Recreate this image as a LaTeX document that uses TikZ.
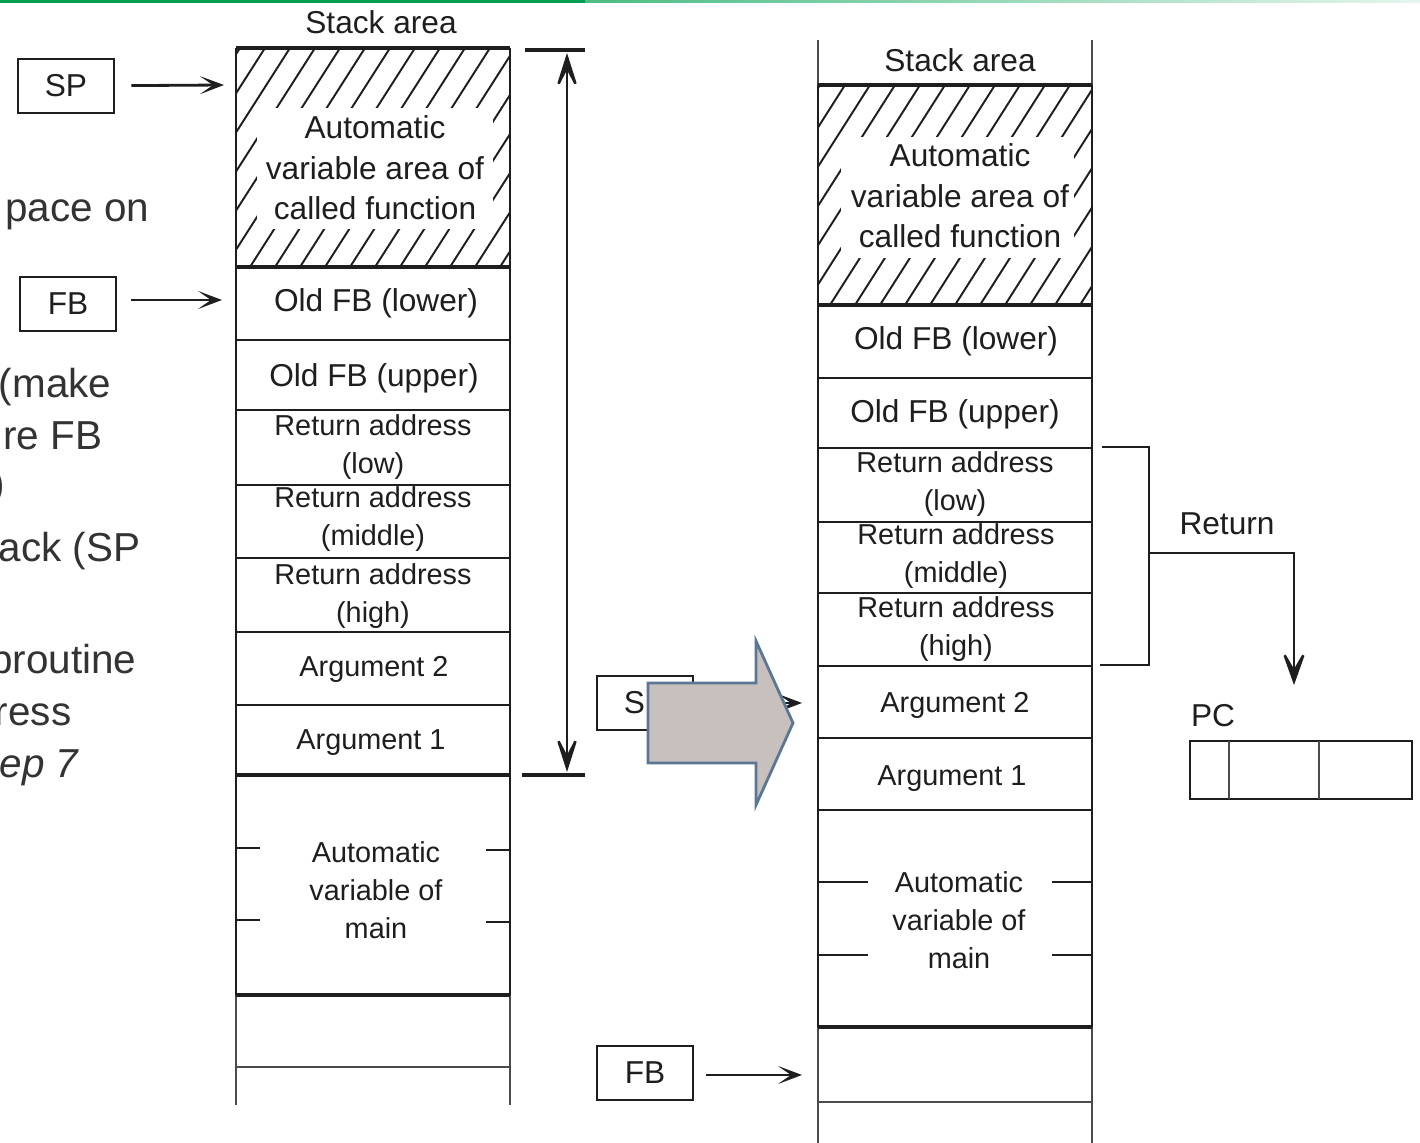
\documentclass[tikz,border=0pt]{standalone}
\usepackage{fontspec}
\setmainfont{Liberation Sans}
\usetikzlibrary{arrows.meta}
\definecolor{ink}{RGB}{30,30,30}
\definecolor{slidegray}{RGB}{51,51,51}
\definecolor{barG}{RGB}{0,160,80}
\definecolor{arrowfill}{RGB}{200,192,188}
\definecolor{arrowline}{RGB}{90,120,150}
\begin{document}
\begin{tikzpicture}[x=0.01cm,y=-0.01cm,
  cell/.style={font=\fontsize{9}{11}\selectfont,text=ink,align=center,inner sep=0pt},
  cellsm/.style={font=\fontsize{8.2}{10.8}\selectfont,text=ink,align=center,inner sep=0pt},
  slide/.style={font=\fontsize{11.5}{14}\selectfont,text=slidegray,anchor=base east,inner sep=0pt},
  reg/.style={draw=ink,line width=0.7pt,minimum width=0.96cm,minimum height=0.54cm,inner sep=0pt,font=\fontsize{9}{10}\selectfont,text=ink},
  rule/.style={draw=ink,line width=0.75pt},
  heavy/.style={draw=ink,line width=1.1pt},
  faint/.style={draw=ink!80,line width=0.4pt},
  hatch/.style={draw=ink,line width=0.55pt},
  ptr/.style={draw=ink,line width=0.8pt,-{Stealth[length=2.4mm,width=1.8mm,inset=1.3mm]}},
  span/.style={draw=ink,line width=0.7pt,{Stealth[length=4.4mm,width=2.8mm,inset=2.7mm]}-{Stealth[length=4.4mm,width=2.8mm,inset=2.7mm]}},
  bigtip/.style={draw=ink,line width=0.7pt,-{Stealth[length=4.2mm,width=3mm,inset=2.6mm]}},
]
\useasboundingbox (0,0) rectangle (1420,1143);
\fill[white] (0,0) rectangle (1420,1143);

% top bar
\fill[barG] (0,0) rectangle (585,3.5);
\shade[left color=barG!70, right color=barG!10] (585,0) rectangle (1420,2.5);

% slide text (cut off at left)
\node[slide] (s1) at (150,222) {pace on};
\node[slide] (s2) at (112,398) {(make};
\node[slide] (s3) at (103,450) {re FB};
\node[slide] (s4) at (6,498) {)};
\node[slide] (s5) at (141,562) {ack (SP};
\node[slide] (s6) at (137,674) {proutine};
\node[slide] (s7) at (72,726) {ress};
\node[slide,font=\fontsize{11.5}{14}\selectfont\itshape] (s8) at (79,778) {ep 7};

% ================= LEFT STACK =================
\node[cell] (lsa) at (381,22) {Stack area};
\begin{scope}
  \clip (236,48) rectangle (510,267);
  \foreach \i in {0,...,18} \draw[hatch] (100+\i*25,267) -- ++(140,-219);
\end{scope}
\fill[white] (257,108) rectangle (493,229);
\node[cell,font=\fontsize{9}{11.5}\selectfont] (lauto) at (375,168) {Automatic\\variable area of\\called function};
\node[cell] (lofl) at (376,303) {Old FB (lower)};
\node[cell] (lofu) at (374,378) {Old FB (upper)};
\node[cellsm] (lral) at (373,447) {Return address\\(low)};
\node[cellsm] (lram) at (373,519) {Return address\\(middle)};
\node[cellsm] (lrah) at (373,596) {Return address\\(high)};
\node[cellsm] (larg2) at (374,669) {Argument 2};
\node[cellsm] (larg1) at (371,743) {Argument 1};
\node[cellsm] (lmain) at (376,890) {Automatic\\variable of\\main};

\draw[rule] (236,48) -- (236,995);
\draw[rule] (510,48) -- (510,995);
\draw[faint] (236,995) -- (236,1105);
\draw[faint] (510,995) -- (510,1105);
\draw[heavy] (236,48) -- (510,48);
\draw[heavy] (236,267) -- (510,267);
\foreach \yy in {340,410,485,558,632,705} \draw[rule] (236,\yy) -- (510,\yy);
\draw[heavy] (236,775) -- (510,775);
\draw[heavy] (236,995) -- (510,995);
\draw[faint] (236,1067) -- (510,1067);
\draw[rule] (236,848) -- (260,848);
\draw[rule] (236,920) -- (260,920);
\draw[rule] (486,850) -- (510,850);
\draw[rule] (486,922) -- (510,922);

% span arrow
\draw[heavy] (525,50) -- (585,50);
\draw[heavy] (522,775) -- (585,775);
\coordinate (spt) at (567,53);
\coordinate (spb) at (567,772);
\draw[span] (spt) -- (spb);

% SP, FB pointers (left)
\node[reg] (sp1) at (66,86) {SP};
\node[reg] (fb1) at (68,304) {FB};
\coordinate (tsp1) at (224,85);
\coordinate (tfb1) at (222,300);
\draw[ptr,shorten <=0.16cm] (sp1) -- (tsp1);
\draw[ptr,shorten <=0.14cm] (fb1.east |- tfb1) -- (tfb1);

% ================= RIGHT STACK =================
\node[cell] (rsa) at (960,60) {Stack area};
\begin{scope}
  \clip (818,85) rectangle (1092,305);
  \foreach \i in {0,...,18} \draw[hatch] (680+\i*25,305) -- ++(140,-220);
\end{scope}
\fill[white] (841,137) rectangle (1074,258);
\node[cell,font=\fontsize{9}{11.5}\selectfont] (rauto) at (960,196) {Automatic\\variable area of\\called function};
\node[cell] (rofl) at (956,341) {Old FB (lower)};
\node[cell] (rofu) at (955,414) {Old FB (upper)};
\node[cellsm] (rral) at (955,484) {Return address\\(low)};
\node[cellsm] (rram) at (956,556) {Return address\\(middle)};
\node[cellsm] (rrah) at (956,629) {Return address\\(high)};
\node[cellsm] (rarg2) at (955,705) {Argument 2};
\node[cellsm] (rarg1) at (952,779) {Argument 1};
\node[cellsm] (rmain) at (959,920) {Automatic\\variable of\\main};

\draw[faint] (818,40) -- (818,85);
\draw[faint] (1092,40) -- (1092,85);
\draw[rule] (818,85) -- (818,1027);
\draw[rule] (1092,85) -- (1092,1027);
\draw[faint] (818,1027) -- (818,1143);
\draw[faint] (1092,1027) -- (1092,1143);
\draw[heavy] (818,85) -- (1092,85);
\draw[heavy] (818,305) -- (1092,305);
\foreach \yy in {378,448,522,593,666,738,810} \draw[rule] (818,\yy) -- (1092,\yy);
\draw[heavy] (818,1027) -- (1092,1027);
\draw[faint] (818,1102) -- (1092,1102);
\draw[rule] (818,882) -- (868,882);
\draw[rule] (818,955) -- (868,955);
\draw[rule] (1052,882) -- (1092,882);
\draw[rule] (1052,955) -- (1092,955);

% bracket and return arrow
\draw[rule] (1102,447) -- (1149,447) -- (1149,665) -- (1100,665);
\coordinate (br) at (1149,553);
\coordinate (pcin) at (1294,685);
\draw[bigtip] (br) -| (pcin);
\node[cell] (ret) at (1227,524) {Return};
\node[cell] (pcl) at (1213,716) {PC};
\node[draw=ink,line width=0.75pt,minimum width=2.22cm,minimum height=0.58cm,inner sep=0pt] (pc) at (1301,770) {};
\draw[faint,line width=0.5pt] (1229,741) -- (1229,799);
\draw[faint,line width=0.5pt] (1319,741) -- (1319,799);

% SP, FB pointers (right)
\node[reg] (sp2) at (645,703) {SP};
\coordinate (tsp2) at (802,703);
\draw[ptr,shorten <=0.12cm] (sp2) -- (tsp2);
\node[reg] (fb2) at (645,1073) {FB};
\coordinate (tfb2) at (802,1075);
\draw[ptr,shorten <=0.12cm] (fb2.east |- tfb2) -- (tfb2);

% block arrow
\filldraw[fill=arrowfill,draw=arrowline,line width=0.8pt]
  (648,683) -- (756,683) -- (756,641) -- (793,723) -- (756,805) -- (756,763) -- (648,763) -- cycle;
\end{tikzpicture}
\end{document}
